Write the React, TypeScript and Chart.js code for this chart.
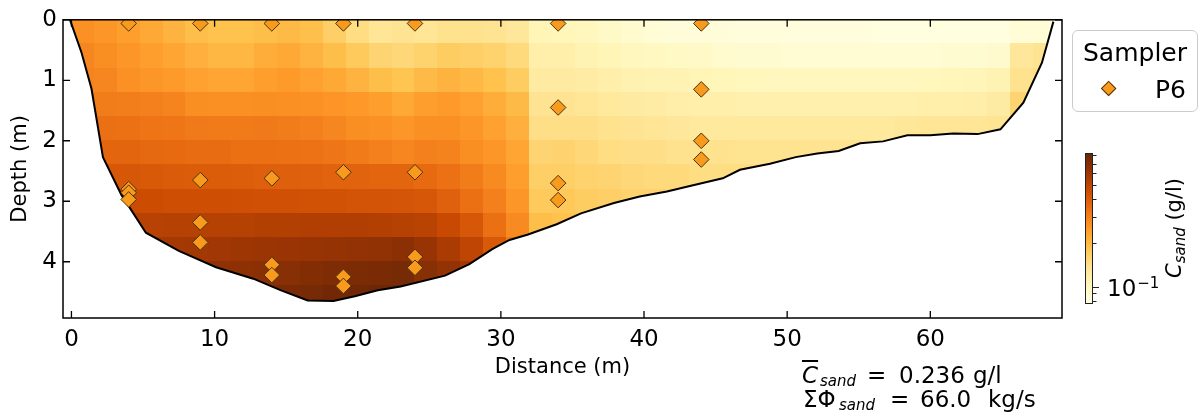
import React, { useEffect, useRef } from 'react';
import { Chart, registerables } from 'chart.js';

Chart.register(...registerables);

const FONT = '"DejaVu Sans", "Liberation Sans", sans-serif';
Chart.defaults.font.family = FONT;
Chart.defaults.color = '#000';

// ---------------- data ----------------
const xTickValues = [0, 10, 20, 30, 40, 50, 60];
const yTickValues = [0, 1, 2, 3, 4];
const colorbarMajorTicks = [0.1];
const colorbarMinorTicks = [0.08, 0.09, 0.2, 0.3, 0.4, 0.5, 0.6, 0.7, 0.8];
const colorMin = 0.076;
const colorMax = 0.83;

const bedDistance = [-0.1, 0.7, 1.4, 2.2, 3.5, 4.0, 5.2, 7.5, 10.1, 12.7, 14.6, 16.5, 18.3, 19.8, 21.4, 23.0, 26.1, 27.8, 29.4, 30.6, 31.9, 33.9, 35.6, 37.9, 39.7, 41.6, 43.5, 45.5, 46.7, 48.8, 50.6, 52.1, 53.6, 55.1, 56.7, 58.4, 60.0, 61.6, 63.3, 64.9, 66.5, 67.8, 68.6];
const bedDepth = [0, 0.54, 1.14, 2.27, 2.9, 3.08, 3.52, 3.82, 4.09, 4.28, 4.47, 4.64, 4.65, 4.57, 4.47, 4.41, 4.23, 4.04, 3.79, 3.64, 3.55, 3.38, 3.2, 3.03, 2.92, 2.84, 2.73, 2.62, 2.48, 2.38, 2.27, 2.21, 2.17, 2.04, 2.01, 1.91, 1.91, 1.88, 1.89, 1.81, 1.37, 0.71, 0.03];

const samplerDistance = [4, 4, 4, 4, 9, 9, 9, 9, 14, 14, 14, 14, 19, 19, 19, 19, 24, 24, 24, 24, 34, 34, 34, 34, 44, 44, 44, 44];
const samplerDepth = [0.06, 2.8, 2.86, 2.97, 0.06, 2.65, 3.35, 3.68, 0.06, 2.62, 4.05, 4.22, 0.06, 2.52, 4.25, 4.4, 0.06, 2.52, 3.92, 4.1, 0.06, 1.45, 2.7, 2.98, 0.06, 1.15, 2.0, 2.31];

// grid resolution of the concentration field (m)
const cellWidth = 1.6;
const cellHeight = 0.4;

const _ = null;
// concentration (g/l): one row per 0.4 m depth layer, one column per 1.6 m
const concentrationGrid: (number | null)[][] = [
  [0.266, 0.256, 0.243, 0.226, 0.209, 0.194, 0.189, 0.189, 0.194, 0.199, 0.192, 0.167, 0.147, 0.133, 0.137, 0.133, 0.140, 0.140, 0.137, 0.130, 0.106, 0.104, 0.101, 0.094, 0.089, 0.085, 0.083, 0.083, 0.083, 0.081, 0.081, 0.081, 0.081, 0.081, 0.081, 0.080, 0.080, 0.080, 0.080, 0.080, 0.080, 0.085, 0.085],
  [0.287, 0.273, 0.256, 0.243, 0.231, 0.215, 0.204, 0.204, 0.220, 0.226, 0.209, 0.194, 0.176, 0.159, 0.155, 0.163, 0.171, 0.167, 0.163, 0.151, 0.115, 0.115, 0.109, 0.106, 0.102, 0.099, 0.096, 0.094, 0.089, 0.088, 0.088, 0.087, 0.087, 0.087, 0.087, 0.087, 0.087, 0.087, 0.088, 0.088, 0.090, 0.130, 0.137],
  [0.294, 0.287, 0.266, 0.256, 0.249, 0.237, 0.231, 0.231, 0.243, 0.249, 0.237, 0.226, 0.209, 0.194, 0.185, 0.199, 0.209, 0.201, 0.189, 0.171, 0.124, 0.124, 0.120, 0.115, 0.112, 0.109, 0.108, 0.106, 0.104, 0.103, 0.102, 0.102, 0.102, 0.102, 0.102, 0.102, 0.102, 0.103, 0.104, 0.105, 0.108, 0.140, 0.144],
  [0.310, 0.310, 0.306, 0.302, 0.294, 0.273, 0.270, 0.270, 0.273, 0.270, 0.266, 0.260, 0.252, 0.243, 0.226, 0.243, 0.249, 0.237, 0.220, 0.199, 0.137, 0.137, 0.133, 0.127, 0.124, 0.120, 0.117, 0.115, 0.115, 0.114, 0.113, 0.113, 0.113, 0.113, 0.113, 0.113, 0.114, 0.115, 0.116, 0.117, 0.122, 0.159, _],
  [_, 0.342, 0.337, 0.329, 0.325, 0.317, 0.314, 0.314, 0.317, 0.310, 0.302, 0.287, 0.273, 0.266, 0.256, 0.270, 0.270, 0.256, 0.237, 0.215, 0.144, 0.144, 0.144, 0.140, 0.137, 0.133, 0.130, 0.127, 0.127, 0.127, 0.127, 0.127, 0.127, 0.127, 0.127, 0.127, 0.131, 0.133, 0.133, 0.133, 0.136, 0.163, _],
  [_, 0.369, 0.369, 0.360, 0.355, 0.351, 0.351, 0.342, 0.342, 0.337, 0.333, 0.325, 0.314, 0.302, 0.287, 0.302, 0.298, 0.273, 0.256, 0.231, 0.159, 0.161, 0.155, 0.147, 0.144, 0.144, 0.140, 0.140, 0.140, 0.138, 0.138, 0.138, 0.138, 0.138, 0.138, 0.138],
  [_, 0.417, 0.417, 0.407, 0.402, 0.397, 0.397, 0.392, 0.387, 0.387, 0.382, 0.377, 0.377, 0.369, 0.369, 0.355, 0.337, 0.310, 0.280, 0.243, 0.167, 0.167, 0.163, 0.159, 0.155, 0.151, 0.151, 0.147, 0.147, 0.147, 0.144],
  [_, _, 0.461, 0.455, 0.449, 0.449, 0.449, 0.444, 0.438, 0.438, 0.433, 0.433, 0.427, 0.427, 0.422, 0.417, 0.382, 0.342, 0.302, 0.256, 0.176, 0.178, 0.171, 0.167, 0.163, 0.161, 0.159],
  [_, _, 0.516, 0.516, 0.522, 0.522, 0.522, 0.522, 0.529, 0.529, 0.535, 0.535, 0.535, 0.529, 0.522, 0.509, 0.467, 0.417, 0.342, 0.280, 0.194, 0.189, 0.185],
  [_, _, _, 0.576, 0.576, 0.583, 0.591, 0.598, 0.605, 0.613, 0.620, 0.628, 0.636, 0.644, 0.668, 0.620, 0.562, 0.497, 0.407, 0.317],
  [_, _, _, _, _, 0.644, 0.652, 0.660, 0.668, 0.685, 0.702, 0.720, 0.729, 0.738, 0.756, 0.685, 0.636, 0.576],
  [_, _, _, _, _, _, _, _, 0.720, 0.738, 0.756, 0.775, 0.785, 0.795, 0.804],
];

const meanConcentration = '0.236';
const totalFlux = '66.0';

// YlOrBr colormap
const cmapPositions = [0, 0.125, 0.25, 0.375, 0.5, 0.625, 0.75, 0.875, 1];
const cmapColors = ['#ffffe5', '#fff7bc', '#fee391', '#fec44f', '#fe9929', '#ec7014', '#cc4c02', '#993404', '#662506'];

// ---------------- helpers ----------------
function hexToRgb(h: string) {
  return [parseInt(h.slice(1, 3), 16), parseInt(h.slice(3, 5), 16), parseInt(h.slice(5, 7), 16)];
}
const cmapRgb = cmapColors.map(hexToRgb);

function colormap(t: number) {
  const tt = Math.max(0, Math.min(1, t));
  let i = 0;
  while (i < cmapPositions.length - 2 && tt > cmapPositions[i + 1]) i++;
  const f = (tt - cmapPositions[i]) / (cmapPositions[i + 1] - cmapPositions[i]);
  const a = cmapRgb[i];
  const b = cmapRgb[i + 1];
  const c = a.map((v, k) => Math.round(v + (b[k] - v) * f));
  return `rgb(${c[0]},${c[1]},${c[2]})`;
}

function colorForValue(v: number) {
  return colormap(Math.log(v / colorMin) / Math.log(colorMax / colorMin));
}

const heatmapPlugin = {
  id: 'heatmap',
  beforeDatasetsDraw(chart: any) {
    const { ctx, chartArea: a, scales } = chart;
    const x = scales.x;
    const y = scales.y;
    ctx.save();
    ctx.beginPath();
    ctx.rect(a.left, a.top, a.right - a.left, a.bottom - a.top);
    ctx.clip();
    ctx.beginPath();
    bedDistance.forEach((d, i) => {
      const px = x.getPixelForValue(d);
      const py = y.getPixelForValue(bedDepth[i]);
      if (i === 0) ctx.moveTo(px, py);
      else ctx.lineTo(px, py);
    });
    ctx.lineTo(x.getPixelForValue(bedDistance[bedDistance.length - 1]), y.getPixelForValue(-0.5));
    ctx.lineTo(x.getPixelForValue(bedDistance[0]), y.getPixelForValue(-0.5));
    ctx.closePath();
    ctx.clip();
    concentrationGrid.forEach((row, r) => {
      row.forEach((v, k) => {
        if (v === null || v === undefined) return;
        const x0 = x.getPixelForValue(k * cellWidth);
        const x1 = x.getPixelForValue((k + 1) * cellWidth);
        const y0 = y.getPixelForValue(r * cellHeight);
        const y1 = y.getPixelForValue((r + 1) * cellHeight);
        ctx.fillStyle = colorForValue(v);
        ctx.fillRect(Math.floor(x0), Math.floor(Math.min(y0, y1)), Math.ceil(x1) - Math.floor(x0) + 1, Math.ceil(Math.abs(y1 - y0)) + 1);
      });
    });
    ctx.restore();
  },
};

const framePlugin = {
  id: 'frame',
  afterDraw(chart: any) {
    const { ctx, chartArea: a, scales } = chart;
    const x = scales.x;
    const y = scales.y;
    const L = 7;
    ctx.save();
    ctx.strokeStyle = '#000';
    ctx.lineWidth = 1.3;
    ctx.beginPath();
    x.ticks.forEach((t: any) => {
      const px = x.getPixelForValue(t.value);
      ctx.moveTo(px, a.bottom);
      ctx.lineTo(px, a.bottom - L);
      ctx.moveTo(px, a.top);
      ctx.lineTo(px, a.top + L);
    });
    y.ticks.forEach((t: any) => {
      const py = y.getPixelForValue(t.value);
      ctx.moveTo(a.left, py);
      ctx.lineTo(a.left + L, py);
      ctx.moveTo(a.right, py);
      ctx.lineTo(a.right - L, py);
    });
    ctx.stroke();
    ctx.lineWidth = 1.5;
    ctx.strokeRect(a.left, a.top, a.right - a.left, a.bottom - a.top);
    ctx.restore();
  },
};

const colorbarPlugin = {
  id: 'colorbar',
  afterDraw(chart: any) {
    const { ctx, chartArea: a, scales } = chart;
    const y = scales.y;
    ctx.save();
    for (let py = Math.floor(a.top); py < Math.ceil(a.bottom); py++) {
      const v = y.getValueForPixel(py + 0.5);
      ctx.fillStyle = colorForValue(v);
      ctx.fillRect(a.left, py, a.right - a.left, 1);
    }
    ctx.strokeStyle = '#222';
    ctx.lineWidth = 1;
    ctx.strokeRect(a.left + 0.5, a.top + 0.5, a.right - a.left - 1, a.bottom - a.top - 1);
    ctx.beginPath();
    colorbarMajorTicks.forEach((v) => {
      const py = Math.round(y.getPixelForValue(v)) + 0.5;
      ctx.moveTo(a.right, py);
      ctx.lineTo(a.right + 6, py);
    });
    colorbarMinorTicks.forEach((v) => {
      const py = Math.round(y.getPixelForValue(v)) + 0.5;
      ctx.moveTo(a.right, py);
      ctx.lineTo(a.right + 3.5, py);
    });
    ctx.stroke();
    // decade labels: 10^exponent
    ctx.fillStyle = '#000';
    ctx.textBaseline = 'alphabetic';
    ctx.textAlign = 'left';
    colorbarMajorTicks.forEach((v) => {
      const py = y.getPixelForValue(v);
      const lx = a.right + 14;
      ctx.font = `23px ${FONT}`;
      ctx.fillText('10', lx, py + 9.5);
      const w = ctx.measureText('10').width;
      ctx.font = `15px ${FONT}`;
      ctx.fillText('\u2212' + String(-Math.round(Math.log10(v))), lx + w + 1, py + 1.5);
    });
    ctx.restore();
  },
};

export default function App() {
  const mainRef = useRef<HTMLCanvasElement>(null);
  const barRef = useRef<HTMLCanvasElement>(null);

  useEffect(() => {
    const samplerPoints = samplerDistance.map((d, i) => ({ x: d, y: samplerDepth[i] }));
    const bedPoints = bedDistance.map((d, i) => ({ x: d, y: bedDepth[i] }));

    const main = new Chart(mainRef.current as HTMLCanvasElement, {
      type: 'scatter',
      data: {
        datasets: [
          {
            label: 'P6',
            data: samplerPoints,
            pointStyle: 'rectRot',
            pointRadius: 7.8,
            pointHoverRadius: 7.8,
            backgroundColor: '#f89a1c',
            borderColor: '#4d3210',
            borderWidth: 1,
            clip: 0,
          } as any,
          {
            label: 'bed',
            data: bedPoints,
            showLine: true,
            pointRadius: 0,
            pointHoverRadius: 0,
            borderColor: '#000',
            borderWidth: 2,
            fill: false,
          } as any,
        ],
      },
      options: {
        responsive: false,
        animation: false,
        events: [],
        layout: { padding: { left: 0, top: 17, right: 1200 - 1062, bottom: 0 } },
        plugins: { legend: { display: false }, tooltip: { enabled: false } },
        scales: {
          x: {
            type: 'linear',
            min: -0.59,
            max: 69.2,
            afterBuildTicks: (s: any) => {
              s.ticks = xTickValues.map((v) => ({ value: v }));
            },
            afterFit: (s: any) => {
              s.height = 96;
            },
            grid: { display: false, drawTicks: false },
            border: { display: false },
            ticks: { font: { size: 23 }, color: '#000', padding: 8, maxRotation: 0, autoSkip: false },
            title: { display: true, text: 'Distance (m)', font: { size: 21 }, color: '#000', padding: { top: 0, bottom: 34 } },
          },
          y: {
            type: 'linear',
            reverse: true,
            min: 0,
            max: 4.93,
            afterBuildTicks: (s: any) => {
              s.ticks = yTickValues.map((v) => ({ value: v }));
            },
            afterFit: (s: any) => {
              s.width = 63;
            },
            grid: { display: false, drawTicks: false },
            border: { display: false },
            ticks: { font: { size: 23 }, color: '#000', padding: 6, autoSkip: false },
            title: { display: true, text: 'Depth (m)', font: { size: 21 }, color: '#000', padding: { top: 8, bottom: 0 } },
          },
        },
      } as any,
      plugins: [heatmapPlugin, framePlugin],
    });

    const bar = new Chart(barRef.current as HTMLCanvasElement, {
      type: 'scatter',
      data: { datasets: [] },
      options: {
        responsive: false,
        animation: false,
        events: [],
        layout: { padding: { left: 15, top: 13, right: 0, bottom: 16 } },
        plugins: { legend: { display: false }, tooltip: { enabled: false } },
        scales: {
          x: { display: false },
          y: {
            type: 'logarithmic',
            position: 'right',
            min: colorMin,
            max: colorMax,
            afterBuildTicks: (s: any) => {
              s.ticks = colorbarMajorTicks.map((v) => ({ value: v, major: true }));
            },
            afterFit: (s: any) => {
              s.width = 107;
            },
            grid: { display: false, drawTicks: false },
            border: { display: false },
            ticks: { display: false },
          },
        },
      } as any,
      plugins: [colorbarPlugin],
    });

    return () => {
      main.destroy();
      bar.destroy();
    };
  }, []);

  const abs = (left: number, top: number, extra: React.CSSProperties = {}): React.CSSProperties => ({
    position: 'absolute',
    left,
    top,
    whiteSpace: 'nowrap',
    ...extra,
  });
  const subStyle: React.CSSProperties = { fontSize: 15, fontStyle: 'italic', verticalAlign: '-4px', lineHeight: 0 };
  const main23: React.CSSProperties = { fontSize: 23, lineHeight: '26px' };
  const sub15: React.CSSProperties = { fontSize: 15, lineHeight: '20px', fontStyle: 'italic' };

  return (
    <div style={{ position: 'fixed', left: 0, top: 0, width: 1200, height: 414, background: '#fff', overflow: 'hidden', fontFamily: FONT, color: '#000' }}>
      <canvas ref={mainRef} width={1200} height={414} style={{ position: 'absolute', left: 0, top: 0, width: 1200, height: 414 }} />
      <canvas ref={barRef} width={130} height={180} style={{ position: 'absolute', left: 1070, top: 140, width: 130, height: 180 }} />

      {/* legend */}
      <div style={abs(1072, 30, { width: 126, height: 82, boxSizing: 'border-box', border: '1px solid #cccccc', borderRadius: 6, background: 'rgba(255,255,255,0.85)' })} />
      <div style={abs(1083, 38, { fontSize: 25, lineHeight: '30px' })}>Sampler</div>
      <div
        style={abs(1109 - 5.66, 89 - 5.66, {
          width: 11.3,
          height: 11.3,
          boxSizing: 'border-box',
          background: '#f89a1c',
          border: '1px solid #4d3210',
          transform: 'rotate(45deg)',
        })}
      />
      <div style={abs(1155, 74.7, { fontSize: 25, lineHeight: '30px' })}>P6</div>

      {/* colorbar label */}
      <div style={abs(1174, 228, { fontSize: 21, lineHeight: '26px', transform: 'translate(-50%, -50%) rotate(-90deg)' })}>
        <i>C</i>
        <span style={subStyle}>sand</span>
        {' (g/l)'}
      </div>

      {/* annotations, line 1 */}
      <div style={abs(802, 361.7, { ...main23, fontStyle: 'italic' })}>
        <span style={{ textDecoration: 'overline' }}>C</span>
      </div>
      <div style={abs(820, 370.8, sub15)}>sand</div>
      <div style={abs(867, 361.7, main23)}>=</div>
      <div style={abs(899, 361.7, main23)}>{meanConcentration}</div>
      <div style={abs(973, 361.7, main23)}>g/l</div>

      {/* annotations, line 2 */}
      <div style={abs(803, 385.7, main23)}>{'\u03A3\u03A6'}</div>
      <div style={abs(839, 394.8, sub15)}>sand</div>
      <div style={abs(890, 385.7, main23)}>=</div>
      <div style={abs(920, 385.7, main23)}>{totalFlux}</div>
      <div style={abs(988, 385.7, main23)}>kg/s</div>
    </div>
  );
}
